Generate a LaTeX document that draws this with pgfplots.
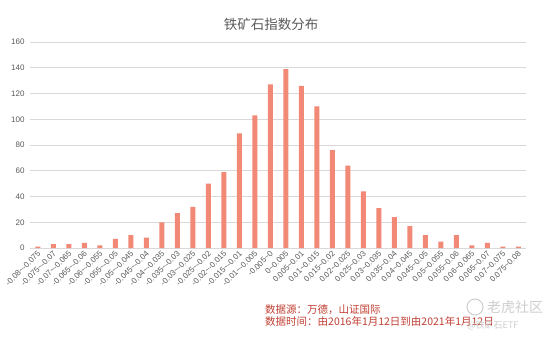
\documentclass[border=0pt]{standalone}
\usepackage{pgfplots}
\pgfplotsset{compat=1.18}
\usepackage{fontspec}
\setmainfont{Liberation Sans}
\newfontfamily\cjk{Noto Sans CJK SC}
\definecolor{barc}{RGB}{242,136,118}
\definecolor{gridc}{RGB}{217,217,217}
\definecolor{txtc}{RGB}{89,89,89}
\definecolor{srcc}{RGB}{192,62,50}
\definecolor{wmc}{RGB}{205,205,205}
\begin{document}
\begin{tikzpicture}
\useasboundingbox (0,0) rectangle (554pt,338pt);
\begin{axis}[
  at={(30pt,90pt)}, anchor=south west,
  scale only axis, width=496pt, height=206pt,
  xmin=-0.5, xmax=31.5, ymin=0, ymax=160,
  ytick={0,20,...,160},
  xtick=data,
  xticklabels={
    -0.08\textasciitilde-0.075,-0.075\textasciitilde-0.07,-0.07\textasciitilde-0.065,-0.065\textasciitilde-0.06,
    -0.06\textasciitilde-0.055,-0.055\textasciitilde-0.05,-0.05\textasciitilde-0.045,-0.045\textasciitilde-0.04,
    -0.04\textasciitilde-0.035,-0.035\textasciitilde-0.03,-0.03\textasciitilde-0.025,-0.025\textasciitilde-0.02,
    -0.02\textasciitilde-0.015,-0.015\textasciitilde-0.01,-0.01\textasciitilde-0.005,-0.005\textasciitilde0,
    0\textasciitilde0.005,0.005\textasciitilde0.01,0.01\textasciitilde0.015,0.015\textasciitilde0.02,
    0.02\textasciitilde0.025,0.025\textasciitilde0.03,0.03\textasciitilde0.035,0.035\textasciitilde0.04,
    0.04\textasciitilde0.045,0.045\textasciitilde0.05,0.05\textasciitilde0.055,0.055\textasciitilde0.06,
    0.06\textasciitilde0.065,0.065\textasciitilde0.07,0.07\textasciitilde0.075,0.075\textasciitilde0.08},
  xticklabel style={rotate=45, anchor=east, font=\fontsize{8}{9}\selectfont, text=txtc, inner sep=1pt, yshift=-4pt, xshift=-1pt},
  yticklabel style={font=\fontsize{8}{9}\selectfont, text=txtc, xshift=-2pt},
  /pgf/number format/assume math mode=true,
  major tick length=0pt,
  ymajorgrids, grid style={gridc, line width=0.8pt},
  axis x line*=bottom, axis y line*=left,
  x axis line style={gridc, line width=0.8pt, -},
  y axis line style={draw=none},
  ybar, bar width=5pt,
  clip=false,
]
\addplot[fill=barc, draw=none] coordinates {
(0,1) (1,3) (2,3) (3,4) (4,2) (5,7) (6,10) (7,8)
(8,20) (9,27) (10,32) (11,50) (12,59) (13,89) (14,103) (15,127)
(16,139) (17,126) (18,110) (19,76) (20,64) (21,44) (22,31) (23,24)
(24,17) (25,10) (26,5) (27,10) (28,2) (29,4) (30,1) (31,1)};
\end{axis}
\node[text=txtc, font=\cjk\fontsize{13.5}{15}\selectfont] at (271pt,314pt) {铁矿石指数分布};
\node[anchor=west, text=srcc, font=\cjk\fontsize{10.5}{12}\selectfont, inner sep=0pt] at (265pt,28pt) {数据源：万德，山证国际};
\node[anchor=west, text=srcc, font=\cjk\fontsize{10.5}{12}\selectfont, inner sep=0pt] at (265pt,16pt) {数据时间：由2016年1月12日到由2021年1月12日};
\draw[wmc, line width=1pt] (475pt,31pt) circle (8pt);
\node[anchor=west, text=wmc, font=\cjk\fontsize{14}{15}\selectfont, inner sep=0pt] at (487pt,31pt) {老虎社区};
\node[anchor=west, text=wmc, font=\cjk\fontsize{9}{10}\selectfont, inner sep=0pt] at (467pt,13pt) {@铁矿石ETF};
\end{tikzpicture}
\end{document}
